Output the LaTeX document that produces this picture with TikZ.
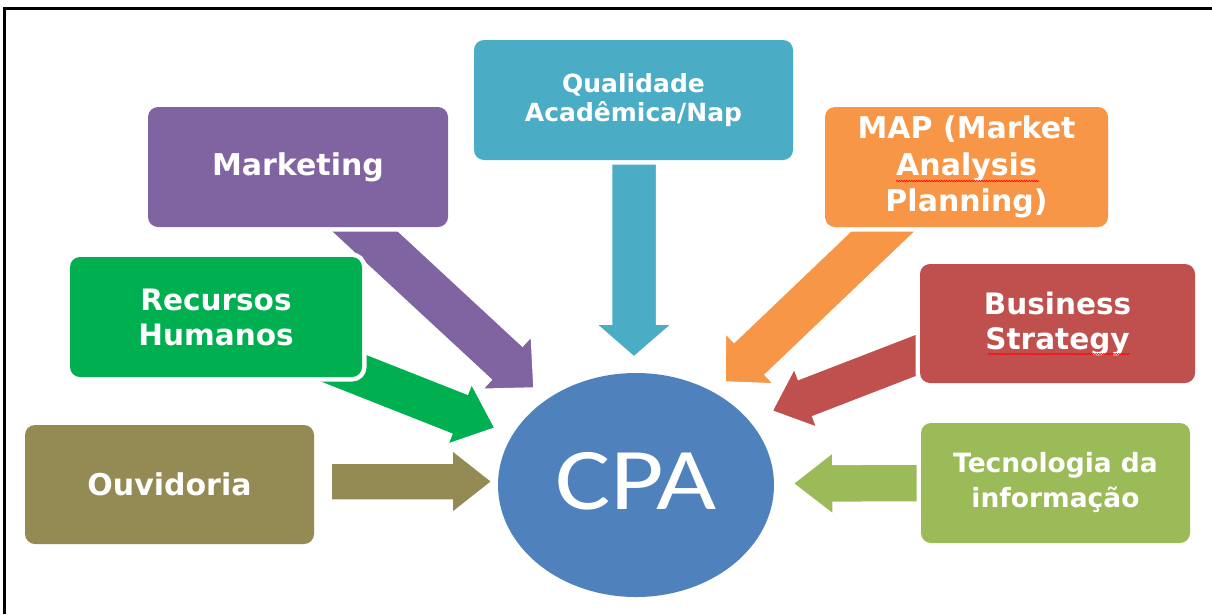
\documentclass[tikz,border=0pt]{standalone}
\usepackage{fontspec}
\setmainfont{DejaVu Sans}
\newfontfamily\cpafont{Carlito}
\usetikzlibrary{calc,shapes.geometric,decorations.pathmorphing}

\definecolor{cPurple}{HTML}{8064A2}
\definecolor{cTeal}{HTML}{4BACC6}
\definecolor{cOrange}{HTML}{F79646}
\definecolor{cGreen}{HTML}{00B050}
\definecolor{cRed}{HTML}{C0504D}
\definecolor{cOlive}{HTML}{948A54}
\definecolor{cLime}{HTML}{9BBB59}
\definecolor{cBlue}{HTML}{4F81BD}

% #1 start, #2 tip, #3 half shaft width, #4 half head width, #5 head length, #6 colour, #7 name
\newcommand{\BlkArrow}[7]{%
  \coordinate (#7h) at ($(#2)!#5!(#1)$);
  \path[arrowbody=#6]
    ($(#1)!#3!90:(#2)$) -- ($(#7h)!#3!90:(#2)$) -- ($(#7h)!#4!90:(#2)$)
    -- (#2)
    -- ($(#7h)!#4!-90:(#2)$) -- ($(#7h)!#3!-90:(#2)$) -- ($(#1)!#3!-90:(#2)$) -- cycle;
}

\begin{document}
\begin{tikzpicture}[x=1pt,y=-1pt,
  boxnode/.style={rectangle, rounded corners=10pt, fill=#1, text=white, align=center,
    inner sep=0pt, preaction={draw=white, line width=9pt}},
  cpanode/.style={ellipse, fill=cBlue, inner sep=0pt, minimum width=276pt, minimum height=224pt},
  cpatext/.style={text=white, font=\cpafont\fontsize{88}{88}\selectfont},
  arrowbody/.style={fill=#1, draw=white, line width=1.5pt, line join=miter},
  spell/.style={draw=red, line width=0.6pt, decorate, decoration={snake, amplitude=0.7pt, segment length=2.5pt}},
  frameline/.style={draw=black, line width=3pt}
]
\useasboundingbox (0,0) rectangle (1212,614);

% frame
\path[frameline] (4,614) -- (4,8) -- (1212,8);

% arrow end points
\coordinate (mktS) at (344,212);   \coordinate (mktT) at (534,388);
\coordinate (rhS)  at (310,355);   \coordinate (rhT)  at (495,428);
\coordinate (qualS) at (634,150);  \coordinate (qualT) at (634,357);
\coordinate (mapS) at (900,215);   \coordinate (mapT) at (725,382);
\coordinate (busS) at (935,348);   \coordinate (busT) at (772,411);
\coordinate (ouvS) at (331,481.5); \coordinate (ouvT) at (492,481.5);
\coordinate (tecS) at (925,483);   \coordinate (tecT) at (793,483.5);

% block arrows
\BlkArrow{rhS}{rhT}{21.5pt}{32.5pt}{38pt}{cGreen}{rhA}
\BlkArrow{mktS}{mktT}{23pt}{36pt}{37pt}{cPurple}{mktA}
\BlkArrow{qualS}{qualT}{22.5pt}{38pt}{33pt}{cTeal}{qualA}
\BlkArrow{busS}{busT}{20pt}{31.5pt}{36pt}{cRed}{busA}
\BlkArrow{mapS}{mapT}{22.5pt}{35pt}{34pt}{cOrange}{mapA}
\BlkArrow{ouvS}{ouvT}{18.5pt}{31.5pt}{40pt}{cOlive}{ouvA}
\BlkArrow{tecS}{tecT}{19pt}{31pt}{40pt}{cLime}{tecA}

% boxes
\node[boxnode=cPurple, minimum width=300pt, minimum height=120pt,
  font=\fontsize{30}{36}\selectfont\bfseries] (mkt) at (298,167) {Marketing};
\node[boxnode=cTeal, minimum width=319pt, minimum height=120pt,
  font=\fontsize{25}{29}\selectfont\bfseries] (qual) at (633.5,100) {Qualidade\\Acadêmica/Nap};
\node[boxnode=cOrange, minimum width=283pt, minimum height=120pt,
  font=\fontsize{30}{36.5}\selectfont\bfseries] (map) at (966.5,167) {MAP (Market\\Analysis\\Planning)};
\node[boxnode=cGreen, minimum width=292pt, minimum height=120pt,
  font=\fontsize{29.5}{35}\selectfont\bfseries] (rh) at (216,317) {Recursos\\Humanos};
\node[boxnode=cRed, minimum width=275pt, minimum height=119pt,
  font=\fontsize{29.5}{35}\selectfont\bfseries] (bus) at (1057.5,323.5) {Business\\Strategy};
\node[boxnode=cOlive, minimum width=289pt, minimum height=119pt,
  font=\fontsize{30}{36}\selectfont\bfseries] (ouv) at (169.5,484.5) {Ouvidoria};
\node[boxnode=cLime, minimum width=269pt, minimum height=120pt,
  font=\fontsize{26.5}{35}\selectfont\bfseries] (tec) at (1055.5,483) {Tecnologia da\\informação};

% spell-check underlines
\path[spell] (896,181) -- (1039,181);
\path[spell] (988,354) -- (1130,354);

% centre
\node[cpanode, label={[cpatext, yshift=4pt]center:\scalebox{1.18}[1]{CPA}}] (cpa) at (636,485) {};
\end{tikzpicture}
\end{document}
